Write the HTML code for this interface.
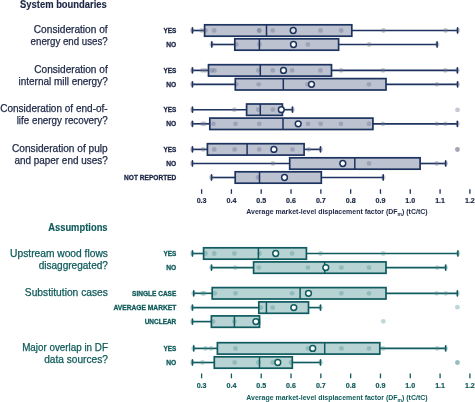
<!DOCTYPE html><html><head><meta charset="utf-8"><style>html,body{margin:0;padding:0;background:#fff;width:475px;height:402px;overflow:hidden}svg{display:block;will-change:transform}text{font-family:"Liberation Sans",sans-serif}</style></head><body>
<svg width="475" height="402" viewBox="0 0 475 402">
<text x="106.8" y="7.6" font-size="10" fill="#1c2645" text-anchor="end" stroke="#1c2645" stroke-width="0.15" font-weight="bold" textLength="86.7" lengthAdjust="spacingAndGlyphs">System boundaries</text>
<text x="107.6" y="230.6" font-size="10" fill="#0f5a5a" text-anchor="end" stroke="#0f5a5a" stroke-width="0.15" font-weight="bold" textLength="59.4" lengthAdjust="spacingAndGlyphs">Assumptions</text>
<text x="107.7" y="33" font-size="10.2" fill="#1c2645" text-anchor="end" stroke="#1c2645" stroke-width="0.25" textLength="73.9" lengthAdjust="spacingAndGlyphs">Consideration of</text>
<text x="107.7" y="45" font-size="10.2" fill="#1c2645" text-anchor="end" stroke="#1c2645" stroke-width="0.25" textLength="77.1" lengthAdjust="spacingAndGlyphs">energy end uses?</text>
<text x="107.7" y="73" font-size="10.2" fill="#1c2645" text-anchor="end" stroke="#1c2645" stroke-width="0.25" textLength="73.4" lengthAdjust="spacingAndGlyphs">Consideration of</text>
<text x="107.7" y="85" font-size="10.2" fill="#1c2645" text-anchor="end" stroke="#1c2645" stroke-width="0.25" textLength="89.2" lengthAdjust="spacingAndGlyphs">internal mill energy?</text>
<text x="107.7" y="112" font-size="10.2" fill="#1c2645" text-anchor="end" stroke="#1c2645" stroke-width="0.25" textLength="107.5" lengthAdjust="spacingAndGlyphs">Consideration of end-of-</text>
<text x="107.7" y="124" font-size="10.2" fill="#1c2645" text-anchor="end" stroke="#1c2645" stroke-width="0.25" textLength="91.0" lengthAdjust="spacingAndGlyphs">life energy recovery?</text>
<text x="107.7" y="152" font-size="10.2" fill="#1c2645" text-anchor="end" stroke="#1c2645" stroke-width="0.25" textLength="95.7" lengthAdjust="spacingAndGlyphs">Consideration of pulp</text>
<text x="107.7" y="164" font-size="10.2" fill="#1c2645" text-anchor="end" stroke="#1c2645" stroke-width="0.25" textLength="93.3" lengthAdjust="spacingAndGlyphs">and paper end uses?</text>
<text x="107.9" y="257" font-size="10.2" fill="#0f5a5a" text-anchor="end" stroke="#0f5a5a" stroke-width="0.25" textLength="97.8" lengthAdjust="spacingAndGlyphs">Upstream wood flows</text>
<text x="107.9" y="269" font-size="10.2" fill="#0f5a5a" text-anchor="end" stroke="#0f5a5a" stroke-width="0.25" textLength="69.2" lengthAdjust="spacingAndGlyphs">disaggregated?</text>
<text x="107.9" y="296" font-size="10.2" fill="#0f5a5a" text-anchor="end" stroke="#0f5a5a" stroke-width="0.25" textLength="83.1" lengthAdjust="spacingAndGlyphs">Substitution cases</text>
<text x="107.9" y="351" font-size="10.2" fill="#0f5a5a" text-anchor="end" stroke="#0f5a5a" stroke-width="0.25" textLength="85.7" lengthAdjust="spacingAndGlyphs">Major overlap in DF</text>
<text x="107.9" y="363" font-size="10.2" fill="#0f5a5a" text-anchor="end" stroke="#0f5a5a" stroke-width="0.25" textLength="63.7" lengthAdjust="spacingAndGlyphs">data sources?</text>
<text x="176.3" y="33" font-size="7.3" fill="#1c2645" text-anchor="end" stroke="#1c2645" stroke-width="0.3" font-weight="bold" textLength="12.9" lengthAdjust="spacingAndGlyphs">YES</text>
<line x1="192.4" y1="30.5" x2="204.6" y2="30.5" stroke="#1d335f" stroke-width="1.65"/>
<line x1="351.8" y1="30.5" x2="457.6" y2="30.5" stroke="#1d335f" stroke-width="1.65"/>
<rect x="204.6" y="24.8" width="147.2" height="11.4" fill="#bcc2d0"/>
<circle cx="192.4" cy="30.5" r="2.4" fill="rgba(108,114,140,0.38)"/>
<circle cx="201.6" cy="30.5" r="2.4" fill="rgba(108,114,140,0.38)"/>
<circle cx="205.5" cy="30.5" r="2.4" fill="rgba(108,114,140,0.38)"/>
<circle cx="214.2" cy="30.5" r="2.4" fill="rgba(108,114,140,0.38)"/>
<circle cx="259.2" cy="30.5" r="2.4" fill="rgba(108,114,140,0.38)"/>
<circle cx="259.2" cy="30.5" r="2.4" fill="rgba(108,114,140,0.38)"/>
<circle cx="272.7" cy="30.5" r="2.4" fill="rgba(108,114,140,0.38)"/>
<circle cx="320.5" cy="30.5" r="2.4" fill="rgba(108,114,140,0.38)"/>
<circle cx="341.2" cy="30.5" r="2.4" fill="rgba(108,114,140,0.38)"/>
<circle cx="383.4" cy="30.5" r="2.4" fill="rgba(108,114,140,0.38)"/>
<circle cx="445.6" cy="30.5" r="2.4" fill="rgba(108,114,140,0.38)"/>
<circle cx="457.6" cy="30.5" r="2.4" fill="rgba(108,114,140,0.38)"/>
<rect x="204.6" y="24.8" width="147.2" height="11.4" fill="none" stroke="#1d335f" stroke-width="1.7"/>
<line x1="266.5" y1="24.8" x2="266.5" y2="36.2" stroke="#1d335f" stroke-width="1.5"/>
<line x1="192.4" y1="27.9" x2="192.4" y2="33.1" stroke="#1d335f" stroke-width="1.6" stroke-linecap="round"/>
<line x1="457.6" y1="27.9" x2="457.6" y2="33.1" stroke="#1d335f" stroke-width="1.6" stroke-linecap="round"/>
<circle cx="293.2" cy="30.5" r="2.9" fill="#fff" stroke="#1d335f" stroke-width="1.5"/>
<text x="176.3" y="47" font-size="7.3" fill="#1c2645" text-anchor="end" stroke="#1c2645" stroke-width="0.3" font-weight="bold" textLength="10.0" lengthAdjust="spacingAndGlyphs">NO</text>
<line x1="211.8" y1="44.5" x2="234.8" y2="44.5" stroke="#1d335f" stroke-width="1.65"/>
<line x1="338.6" y1="44.5" x2="437.1" y2="44.5" stroke="#1d335f" stroke-width="1.65"/>
<rect x="234.8" y="38.8" width="103.8" height="11.4" fill="#bcc2d0"/>
<circle cx="211.8" cy="44.5" r="2.4" fill="rgba(108,114,140,0.38)"/>
<circle cx="236.3" cy="44.5" r="2.4" fill="rgba(108,114,140,0.38)"/>
<circle cx="259.4" cy="44.5" r="2.4" fill="rgba(108,114,140,0.38)"/>
<circle cx="307.9" cy="44.5" r="2.4" fill="rgba(108,114,140,0.38)"/>
<circle cx="369.2" cy="44.5" r="2.4" fill="rgba(108,114,140,0.38)"/>
<circle cx="437.1" cy="44.5" r="2.4" fill="rgba(108,114,140,0.38)"/>
<rect x="234.8" y="38.8" width="103.8" height="11.4" fill="none" stroke="#1d335f" stroke-width="1.7"/>
<line x1="259.4" y1="38.8" x2="259.4" y2="50.2" stroke="#1d335f" stroke-width="1.5"/>
<line x1="211.8" y1="41.9" x2="211.8" y2="47.1" stroke="#1d335f" stroke-width="1.6" stroke-linecap="round"/>
<line x1="437.1" y1="41.9" x2="437.1" y2="47.1" stroke="#1d335f" stroke-width="1.6" stroke-linecap="round"/>
<circle cx="293.5" cy="44.5" r="2.9" fill="#fff" stroke="#1d335f" stroke-width="1.5"/>
<text x="176.3" y="73" font-size="7.3" fill="#1c2645" text-anchor="end" stroke="#1c2645" stroke-width="0.3" font-weight="bold" textLength="12.9" lengthAdjust="spacingAndGlyphs">YES</text>
<line x1="192.4" y1="70.4" x2="208.5" y2="70.4" stroke="#1d335f" stroke-width="1.65"/>
<line x1="331.5" y1="70.4" x2="457.4" y2="70.4" stroke="#1d335f" stroke-width="1.65"/>
<rect x="208.5" y="64.7" width="123.0" height="11.4" fill="#bcc2d0"/>
<circle cx="192.4" cy="70.4" r="2.4" fill="rgba(108,114,140,0.38)"/>
<circle cx="202.4" cy="70.4" r="2.4" fill="rgba(108,114,140,0.38)"/>
<circle cx="205.5" cy="70.4" r="2.4" fill="rgba(108,114,140,0.38)"/>
<circle cx="211.8" cy="70.4" r="2.4" fill="rgba(108,114,140,0.38)"/>
<circle cx="214.5" cy="70.4" r="2.4" fill="rgba(108,114,140,0.38)"/>
<circle cx="258.4" cy="70.4" r="2.4" fill="rgba(108,114,140,0.38)"/>
<circle cx="272.7" cy="70.4" r="2.4" fill="rgba(108,114,140,0.38)"/>
<circle cx="292.2" cy="70.4" r="2.4" fill="rgba(108,114,140,0.38)"/>
<circle cx="320.4" cy="70.4" r="2.4" fill="rgba(108,114,140,0.38)"/>
<circle cx="341.1" cy="70.4" r="2.4" fill="rgba(108,114,140,0.38)"/>
<circle cx="383" cy="70.4" r="2.4" fill="rgba(108,114,140,0.38)"/>
<circle cx="445.3" cy="70.4" r="2.4" fill="rgba(108,114,140,0.38)"/>
<circle cx="457.4" cy="70.4" r="2.4" fill="rgba(108,114,140,0.38)"/>
<rect x="208.5" y="64.7" width="123.0" height="11.4" fill="none" stroke="#1d335f" stroke-width="1.7"/>
<line x1="260.3" y1="64.7" x2="260.3" y2="76.10000000000001" stroke="#1d335f" stroke-width="1.5"/>
<line x1="192.4" y1="67.80000000000001" x2="192.4" y2="73.0" stroke="#1d335f" stroke-width="1.6" stroke-linecap="round"/>
<line x1="457.4" y1="67.80000000000001" x2="457.4" y2="73.0" stroke="#1d335f" stroke-width="1.6" stroke-linecap="round"/>
<circle cx="283.5" cy="70.4" r="2.9" fill="#fff" stroke="#1d335f" stroke-width="1.5"/>
<text x="176.3" y="87" font-size="7.3" fill="#1c2645" text-anchor="end" stroke="#1c2645" stroke-width="0.3" font-weight="bold" textLength="10.0" lengthAdjust="spacingAndGlyphs">NO</text>
<line x1="192.4" y1="84.3" x2="235.3" y2="84.3" stroke="#1d335f" stroke-width="1.65"/>
<line x1="386.0" y1="84.3" x2="457.6" y2="84.3" stroke="#1d335f" stroke-width="1.65"/>
<rect x="235.3" y="78.6" width="150.7" height="11.4" fill="#bcc2d0"/>
<circle cx="192.4" cy="84.3" r="2.4" fill="rgba(108,114,140,0.38)"/>
<circle cx="236.3" cy="84.3" r="2.4" fill="rgba(108,114,140,0.38)"/>
<circle cx="258.7" cy="84.3" r="2.4" fill="rgba(108,114,140,0.38)"/>
<circle cx="307.5" cy="84.3" r="2.4" fill="rgba(108,114,140,0.38)"/>
<circle cx="369" cy="84.3" r="2.4" fill="rgba(108,114,140,0.38)"/>
<circle cx="436.8" cy="84.3" r="2.4" fill="rgba(108,114,140,0.38)"/>
<circle cx="457.6" cy="84.3" r="2.4" fill="rgba(108,114,140,0.38)"/>
<rect x="235.3" y="78.6" width="150.7" height="11.4" fill="none" stroke="#1d335f" stroke-width="1.7"/>
<line x1="283.3" y1="78.6" x2="283.3" y2="90.0" stroke="#1d335f" stroke-width="1.5"/>
<line x1="192.4" y1="81.7" x2="192.4" y2="86.89999999999999" stroke="#1d335f" stroke-width="1.6" stroke-linecap="round"/>
<line x1="457.6" y1="81.7" x2="457.6" y2="86.89999999999999" stroke="#1d335f" stroke-width="1.6" stroke-linecap="round"/>
<circle cx="311.5" cy="84.3" r="2.9" fill="#fff" stroke="#1d335f" stroke-width="1.5"/>
<text x="176.3" y="112" font-size="7.3" fill="#1c2645" text-anchor="end" stroke="#1c2645" stroke-width="0.3" font-weight="bold" textLength="12.9" lengthAdjust="spacingAndGlyphs">YES</text>
<line x1="192.4" y1="109.7" x2="246.6" y2="109.7" stroke="#1d335f" stroke-width="1.65"/>
<line x1="282.4" y1="109.7" x2="292.5" y2="109.7" stroke="#1d335f" stroke-width="1.65"/>
<rect x="246.6" y="104.0" width="35.8" height="11.4" fill="#bcc2d0"/>
<circle cx="192.4" cy="109.7" r="2.4" fill="rgba(108,114,140,0.38)"/>
<circle cx="234.3" cy="109.7" r="2.4" fill="rgba(108,114,140,0.38)"/>
<circle cx="258.3" cy="109.7" r="2.4" fill="rgba(108,114,140,0.38)"/>
<circle cx="272.9" cy="109.7" r="2.4" fill="rgba(108,114,140,0.38)"/>
<circle cx="292.5" cy="109.7" r="2.4" fill="rgba(108,114,140,0.38)"/>
<rect x="246.6" y="104.0" width="35.8" height="11.4" fill="none" stroke="#1d335f" stroke-width="1.7"/>
<line x1="260.3" y1="104.0" x2="260.3" y2="115.4" stroke="#1d335f" stroke-width="1.5"/>
<line x1="192.4" y1="107.10000000000001" x2="192.4" y2="112.3" stroke="#1d335f" stroke-width="1.6" stroke-linecap="round"/>
<line x1="292.5" y1="107.10000000000001" x2="292.5" y2="112.3" stroke="#1d335f" stroke-width="1.6" stroke-linecap="round"/>
<circle cx="281.3" cy="109.7" r="2.9" fill="#fff" stroke="#1d335f" stroke-width="1.5"/>
<text x="176.3" y="126" font-size="7.3" fill="#1c2645" text-anchor="end" stroke="#1c2645" stroke-width="0.3" font-weight="bold" textLength="10.0" lengthAdjust="spacingAndGlyphs">NO</text>
<line x1="192.4" y1="123.8" x2="209.8" y2="123.8" stroke="#1d335f" stroke-width="1.65"/>
<line x1="372.9" y1="123.8" x2="457.4" y2="123.8" stroke="#1d335f" stroke-width="1.65"/>
<rect x="209.8" y="118.1" width="163.1" height="11.4" fill="#bcc2d0"/>
<circle cx="192.4" cy="123.8" r="2.4" fill="rgba(108,114,140,0.38)"/>
<circle cx="202.4" cy="123.8" r="2.4" fill="rgba(108,114,140,0.38)"/>
<circle cx="204.7" cy="123.8" r="2.4" fill="rgba(108,114,140,0.38)"/>
<circle cx="213.4" cy="123.8" r="2.4" fill="rgba(108,114,140,0.38)"/>
<circle cx="235.5" cy="123.8" r="2.4" fill="rgba(108,114,140,0.38)"/>
<circle cx="259.2" cy="123.8" r="2.4" fill="rgba(108,114,140,0.38)"/>
<circle cx="308" cy="123.8" r="2.4" fill="rgba(108,114,140,0.38)"/>
<circle cx="320.7" cy="123.8" r="2.4" fill="rgba(108,114,140,0.38)"/>
<circle cx="341" cy="123.8" r="2.4" fill="rgba(108,114,140,0.38)"/>
<circle cx="369" cy="123.8" r="2.4" fill="rgba(108,114,140,0.38)"/>
<circle cx="382.9" cy="123.8" r="2.4" fill="rgba(108,114,140,0.38)"/>
<circle cx="436.8" cy="123.8" r="2.4" fill="rgba(108,114,140,0.38)"/>
<circle cx="445.3" cy="123.8" r="2.4" fill="rgba(108,114,140,0.38)"/>
<circle cx="457.4" cy="123.8" r="2.4" fill="rgba(108,114,140,0.38)"/>
<rect x="209.8" y="118.1" width="163.1" height="11.4" fill="none" stroke="#1d335f" stroke-width="1.7"/>
<line x1="283.0" y1="118.1" x2="283.0" y2="129.5" stroke="#1d335f" stroke-width="1.5"/>
<line x1="192.4" y1="121.2" x2="192.4" y2="126.39999999999999" stroke="#1d335f" stroke-width="1.6" stroke-linecap="round"/>
<line x1="457.4" y1="121.2" x2="457.4" y2="126.39999999999999" stroke="#1d335f" stroke-width="1.6" stroke-linecap="round"/>
<circle cx="298.2" cy="123.8" r="2.9" fill="#fff" stroke="#1d335f" stroke-width="1.5"/>
<text x="176.3" y="152" font-size="7.3" fill="#1c2645" text-anchor="end" stroke="#1c2645" stroke-width="0.3" font-weight="bold" textLength="12.9" lengthAdjust="spacingAndGlyphs">YES</text>
<line x1="192.4" y1="149.4" x2="207.4" y2="149.4" stroke="#1d335f" stroke-width="1.65"/>
<line x1="304.1" y1="149.4" x2="320.5" y2="149.4" stroke="#1d335f" stroke-width="1.65"/>
<rect x="207.4" y="143.70000000000002" width="96.7" height="11.4" fill="#bcc2d0"/>
<circle cx="192.4" cy="149.4" r="2.4" fill="rgba(108,114,140,0.38)"/>
<circle cx="203.2" cy="149.4" r="2.4" fill="rgba(108,114,140,0.38)"/>
<circle cx="214.2" cy="149.4" r="2.4" fill="rgba(108,114,140,0.38)"/>
<circle cx="234.7" cy="149.4" r="2.4" fill="rgba(108,114,140,0.38)"/>
<circle cx="259.2" cy="149.4" r="2.4" fill="rgba(108,114,140,0.38)"/>
<circle cx="292.5" cy="149.4" r="2.4" fill="rgba(108,114,140,0.38)"/>
<circle cx="308.7" cy="149.4" r="2.4" fill="rgba(108,114,140,0.38)"/>
<circle cx="320.7" cy="149.4" r="2.4" fill="rgba(108,114,140,0.38)"/>
<rect x="207.4" y="143.70000000000002" width="96.7" height="11.4" fill="none" stroke="#1d335f" stroke-width="1.7"/>
<line x1="247.1" y1="143.70000000000002" x2="247.1" y2="155.1" stroke="#1d335f" stroke-width="1.5"/>
<line x1="192.4" y1="146.8" x2="192.4" y2="152.0" stroke="#1d335f" stroke-width="1.6" stroke-linecap="round"/>
<line x1="320.5" y1="146.8" x2="320.5" y2="152.0" stroke="#1d335f" stroke-width="1.6" stroke-linecap="round"/>
<circle cx="273.9" cy="149.4" r="2.9" fill="#fff" stroke="#1d335f" stroke-width="1.5"/>
<text x="176.3" y="166" font-size="7.3" fill="#1c2645" text-anchor="end" stroke="#1c2645" stroke-width="0.3" font-weight="bold" textLength="10.0" lengthAdjust="spacingAndGlyphs">NO</text>
<line x1="192.4" y1="163.5" x2="289.7" y2="163.5" stroke="#1d335f" stroke-width="1.65"/>
<line x1="420.1" y1="163.5" x2="445.7" y2="163.5" stroke="#1d335f" stroke-width="1.65"/>
<rect x="289.7" y="157.8" width="130.4" height="11.4" fill="#bcc2d0"/>
<circle cx="192.4" cy="163.5" r="2.4" fill="rgba(108,114,140,0.38)"/>
<circle cx="272.9" cy="163.5" r="2.4" fill="rgba(108,114,140,0.38)"/>
<circle cx="369" cy="163.5" r="2.4" fill="rgba(108,114,140,0.38)"/>
<circle cx="436.6" cy="163.5" r="2.4" fill="rgba(108,114,140,0.38)"/>
<circle cx="445.7" cy="163.5" r="2.4" fill="rgba(108,114,140,0.38)"/>
<rect x="289.7" y="157.8" width="130.4" height="11.4" fill="none" stroke="#1d335f" stroke-width="1.7"/>
<line x1="354.8" y1="157.8" x2="354.8" y2="169.2" stroke="#1d335f" stroke-width="1.5"/>
<line x1="192.4" y1="160.9" x2="192.4" y2="166.1" stroke="#1d335f" stroke-width="1.6" stroke-linecap="round"/>
<line x1="445.7" y1="160.9" x2="445.7" y2="166.1" stroke="#1d335f" stroke-width="1.6" stroke-linecap="round"/>
<circle cx="342.8" cy="163.5" r="2.9" fill="#fff" stroke="#1d335f" stroke-width="1.5"/>
<text x="176.3" y="180" font-size="7.3" fill="#1c2645" text-anchor="end" stroke="#1c2645" stroke-width="0.3" font-weight="bold" textLength="52.2" lengthAdjust="spacingAndGlyphs">NOT REPORTED</text>
<line x1="211.5" y1="177.5" x2="235.2" y2="177.5" stroke="#1d335f" stroke-width="1.65"/>
<line x1="321.3" y1="177.5" x2="383.2" y2="177.5" stroke="#1d335f" stroke-width="1.65"/>
<rect x="235.2" y="171.8" width="86.1" height="11.4" fill="#bcc2d0"/>
<circle cx="211.5" cy="177.5" r="2.4" fill="rgba(108,114,140,0.38)"/>
<circle cx="258" cy="177.5" r="2.4" fill="rgba(108,114,140,0.38)"/>
<circle cx="383.2" cy="177.5" r="2.4" fill="rgba(108,114,140,0.38)"/>
<rect x="235.2" y="171.8" width="86.1" height="11.4" fill="none" stroke="#1d335f" stroke-width="1.7"/>
<line x1="259.5" y1="171.8" x2="259.5" y2="183.2" stroke="#1d335f" stroke-width="1.5"/>
<line x1="211.5" y1="174.9" x2="211.5" y2="180.1" stroke="#1d335f" stroke-width="1.6" stroke-linecap="round"/>
<line x1="383.2" y1="174.9" x2="383.2" y2="180.1" stroke="#1d335f" stroke-width="1.6" stroke-linecap="round"/>
<circle cx="284.5" cy="177.5" r="2.9" fill="#fff" stroke="#1d335f" stroke-width="1.5"/>
<text x="176.3" y="256" font-size="7.3" fill="#0f5a5a" text-anchor="end" stroke="#0f5a5a" stroke-width="0.3" font-weight="bold" textLength="12.9" lengthAdjust="spacingAndGlyphs">YES</text>
<line x1="192.4" y1="253.5" x2="203.6" y2="253.5" stroke="#0f5b5f" stroke-width="1.65"/>
<line x1="306.4" y1="253.5" x2="457.9" y2="253.5" stroke="#0f5b5f" stroke-width="1.65"/>
<rect x="203.6" y="247.8" width="102.8" height="11.4" fill="#b8d3d4"/>
<circle cx="192.4" cy="253.5" r="2.4" fill="rgba(66,138,140,0.34)"/>
<circle cx="205.5" cy="253.5" r="2.4" fill="rgba(66,138,140,0.34)"/>
<circle cx="214.2" cy="253.5" r="2.4" fill="rgba(66,138,140,0.34)"/>
<circle cx="234.4" cy="253.5" r="2.4" fill="rgba(66,138,140,0.34)"/>
<circle cx="259.5" cy="253.5" r="2.4" fill="rgba(66,138,140,0.34)"/>
<circle cx="292.1" cy="253.5" r="2.4" fill="rgba(66,138,140,0.34)"/>
<circle cx="320.5" cy="253.5" r="2.4" fill="rgba(66,138,140,0.34)"/>
<circle cx="383.2" cy="253.5" r="2.4" fill="rgba(66,138,140,0.34)"/>
<circle cx="457.9" cy="253.5" r="2.4" fill="rgba(66,138,140,0.34)"/>
<rect x="203.6" y="247.8" width="102.8" height="11.4" fill="none" stroke="#0f5b5f" stroke-width="1.7"/>
<line x1="258.4" y1="247.8" x2="258.4" y2="259.2" stroke="#0f5b5f" stroke-width="1.5"/>
<line x1="192.4" y1="250.9" x2="192.4" y2="256.1" stroke="#0f5b5f" stroke-width="1.6" stroke-linecap="round"/>
<line x1="457.9" y1="250.9" x2="457.9" y2="256.1" stroke="#0f5b5f" stroke-width="1.6" stroke-linecap="round"/>
<circle cx="275.7" cy="253.5" r="2.9" fill="#fff" stroke="#0f5b5f" stroke-width="1.5"/>
<text x="176.3" y="270" font-size="7.3" fill="#0f5a5a" text-anchor="end" stroke="#0f5a5a" stroke-width="0.3" font-weight="bold" textLength="10.0" lengthAdjust="spacingAndGlyphs">NO</text>
<line x1="211.5" y1="267.6" x2="253.6" y2="267.6" stroke="#0f5b5f" stroke-width="1.65"/>
<line x1="386.0" y1="267.6" x2="445.7" y2="267.6" stroke="#0f5b5f" stroke-width="1.65"/>
<rect x="253.6" y="261.90000000000003" width="132.4" height="11.4" fill="#b8d3d4"/>
<circle cx="211.5" cy="267.6" r="2.4" fill="rgba(66,138,140,0.34)"/>
<circle cx="235.2" cy="267.6" r="2.4" fill="rgba(66,138,140,0.34)"/>
<circle cx="258.8" cy="267.6" r="2.4" fill="rgba(66,138,140,0.34)"/>
<circle cx="307.9" cy="267.6" r="2.4" fill="rgba(66,138,140,0.34)"/>
<circle cx="341.4" cy="267.6" r="2.4" fill="rgba(66,138,140,0.34)"/>
<circle cx="369" cy="267.6" r="2.4" fill="rgba(66,138,140,0.34)"/>
<circle cx="437.2" cy="267.6" r="2.4" fill="rgba(66,138,140,0.34)"/>
<circle cx="445.7" cy="267.6" r="2.4" fill="rgba(66,138,140,0.34)"/>
<rect x="253.6" y="261.90000000000003" width="132.4" height="11.4" fill="none" stroke="#0f5b5f" stroke-width="1.7"/>
<line x1="324.7" y1="261.90000000000003" x2="324.7" y2="273.3" stroke="#0f5b5f" stroke-width="1.5"/>
<line x1="211.5" y1="265.0" x2="211.5" y2="270.20000000000005" stroke="#0f5b5f" stroke-width="1.6" stroke-linecap="round"/>
<line x1="445.7" y1="265.0" x2="445.7" y2="270.20000000000005" stroke="#0f5b5f" stroke-width="1.6" stroke-linecap="round"/>
<circle cx="325.8" cy="267.6" r="2.9" fill="#fff" stroke="#0f5b5f" stroke-width="1.5"/>
<text x="176.3" y="296" font-size="7.3" fill="#0f5a5a" text-anchor="end" stroke="#0f5a5a" stroke-width="0.3" font-weight="bold" textLength="44.2" lengthAdjust="spacingAndGlyphs">SINGLE CASE</text>
<line x1="193.7" y1="293.3" x2="212.2" y2="293.3" stroke="#0f5b5f" stroke-width="1.65"/>
<line x1="386.0" y1="293.3" x2="457.4" y2="293.3" stroke="#0f5b5f" stroke-width="1.65"/>
<rect x="212.2" y="287.6" width="173.8" height="11.4" fill="#b8d3d4"/>
<circle cx="193.7" cy="293.3" r="2.4" fill="rgba(66,138,140,0.34)"/>
<circle cx="202.4" cy="293.3" r="2.4" fill="rgba(66,138,140,0.34)"/>
<circle cx="204.2" cy="293.3" r="2.4" fill="rgba(66,138,140,0.34)"/>
<circle cx="214.7" cy="293.3" r="2.4" fill="rgba(66,138,140,0.34)"/>
<circle cx="235.5" cy="293.3" r="2.4" fill="rgba(66,138,140,0.34)"/>
<circle cx="292.1" cy="293.3" r="2.4" fill="rgba(66,138,140,0.34)"/>
<circle cx="341.4" cy="293.3" r="2.4" fill="rgba(66,138,140,0.34)"/>
<circle cx="369" cy="293.3" r="2.4" fill="rgba(66,138,140,0.34)"/>
<circle cx="436.6" cy="293.3" r="2.4" fill="rgba(66,138,140,0.34)"/>
<circle cx="445.7" cy="293.3" r="2.4" fill="rgba(66,138,140,0.34)"/>
<circle cx="457.4" cy="293.3" r="2.4" fill="rgba(66,138,140,0.34)"/>
<rect x="212.2" y="287.6" width="173.8" height="11.4" fill="none" stroke="#0f5b5f" stroke-width="1.7"/>
<line x1="300.1" y1="287.6" x2="300.1" y2="299.0" stroke="#0f5b5f" stroke-width="1.5"/>
<line x1="193.7" y1="290.7" x2="193.7" y2="295.90000000000003" stroke="#0f5b5f" stroke-width="1.6" stroke-linecap="round"/>
<line x1="457.4" y1="290.7" x2="457.4" y2="295.90000000000003" stroke="#0f5b5f" stroke-width="1.6" stroke-linecap="round"/>
<circle cx="308.5" cy="293.3" r="2.9" fill="#fff" stroke="#0f5b5f" stroke-width="1.5"/>
<text x="176.3" y="310" font-size="7.3" fill="#0f5a5a" text-anchor="end" stroke="#0f5a5a" stroke-width="0.3" font-weight="bold" textLength="62.8" lengthAdjust="spacingAndGlyphs">AVERAGE MARKET</text>
<line x1="192.4" y1="307.6" x2="258.8" y2="307.6" stroke="#0f5b5f" stroke-width="1.65"/>
<line x1="308.5" y1="307.6" x2="320.5" y2="307.6" stroke="#0f5b5f" stroke-width="1.65"/>
<rect x="258.8" y="301.90000000000003" width="49.7" height="11.4" fill="#b8d3d4"/>
<circle cx="192.4" cy="307.6" r="2.4" fill="rgba(66,138,140,0.34)"/>
<circle cx="261" cy="307.6" r="2.4" fill="rgba(66,138,140,0.34)"/>
<circle cx="272.7" cy="307.6" r="2.4" fill="rgba(66,138,140,0.34)"/>
<circle cx="320.5" cy="307.6" r="2.4" fill="rgba(66,138,140,0.34)"/>
<rect x="258.8" y="301.90000000000003" width="49.7" height="11.4" fill="none" stroke="#0f5b5f" stroke-width="1.7"/>
<line x1="266.4" y1="301.90000000000003" x2="266.4" y2="313.3" stroke="#0f5b5f" stroke-width="1.5"/>
<line x1="192.4" y1="305.0" x2="192.4" y2="310.20000000000005" stroke="#0f5b5f" stroke-width="1.6" stroke-linecap="round"/>
<line x1="320.5" y1="305.0" x2="320.5" y2="310.20000000000005" stroke="#0f5b5f" stroke-width="1.6" stroke-linecap="round"/>
<circle cx="293.8" cy="307.6" r="2.9" fill="#fff" stroke="#0f5b5f" stroke-width="1.5"/>
<text x="176.3" y="324" font-size="7.3" fill="#0f5a5a" text-anchor="end" stroke="#0f5a5a" stroke-width="0.3" font-weight="bold" textLength="31.6" lengthAdjust="spacingAndGlyphs">UNCLEAR</text>
<line x1="192.4" y1="321.6" x2="211.4" y2="321.6" stroke="#0f5b5f" stroke-width="1.65"/>
<line x1="259.5" y1="321.6" x2="259.5" y2="321.6" stroke="#0f5b5f" stroke-width="1.65"/>
<rect x="211.4" y="315.90000000000003" width="48.1" height="11.4" fill="#b8d3d4"/>
<circle cx="192.4" cy="321.6" r="2.4" fill="rgba(66,138,140,0.34)"/>
<circle cx="213" cy="321.6" r="2.4" fill="rgba(66,138,140,0.34)"/>
<circle cx="234.4" cy="321.6" r="2.4" fill="rgba(66,138,140,0.34)"/>
<circle cx="255.9" cy="321.6" r="2.4" fill="rgba(66,138,140,0.34)"/>
<rect x="211.4" y="315.90000000000003" width="48.1" height="11.4" fill="none" stroke="#0f5b5f" stroke-width="1.7"/>
<line x1="234.4" y1="315.90000000000003" x2="234.4" y2="327.3" stroke="#0f5b5f" stroke-width="1.5"/>
<line x1="192.4" y1="319.0" x2="192.4" y2="324.20000000000005" stroke="#0f5b5f" stroke-width="1.6" stroke-linecap="round"/>
<line x1="259.5" y1="319.0" x2="259.5" y2="324.20000000000005" stroke="#0f5b5f" stroke-width="1.6" stroke-linecap="round"/>
<circle cx="255.9" cy="321.6" r="2.9" fill="#fff" stroke="#0f5b5f" stroke-width="1.5"/>
<text x="176.3" y="351" font-size="7.3" fill="#0f5a5a" text-anchor="end" stroke="#0f5a5a" stroke-width="0.3" font-weight="bold" textLength="12.9" lengthAdjust="spacingAndGlyphs">YES</text>
<line x1="193.7" y1="348.4" x2="217.4" y2="348.4" stroke="#0f5b5f" stroke-width="1.65"/>
<line x1="379.8" y1="348.4" x2="445.7" y2="348.4" stroke="#0f5b5f" stroke-width="1.65"/>
<rect x="217.4" y="342.7" width="162.4" height="11.4" fill="#b8d3d4"/>
<circle cx="193.7" cy="348.4" r="2.4" fill="rgba(66,138,140,0.34)"/>
<circle cx="205.5" cy="348.4" r="2.4" fill="rgba(66,138,140,0.34)"/>
<circle cx="211" cy="348.4" r="2.4" fill="rgba(66,138,140,0.34)"/>
<circle cx="235.5" cy="348.4" r="2.4" fill="rgba(66,138,140,0.34)"/>
<circle cx="307.9" cy="348.4" r="2.4" fill="rgba(66,138,140,0.34)"/>
<circle cx="341.4" cy="348.4" r="2.4" fill="rgba(66,138,140,0.34)"/>
<circle cx="369" cy="348.4" r="2.4" fill="rgba(66,138,140,0.34)"/>
<circle cx="383.2" cy="348.4" r="2.4" fill="rgba(66,138,140,0.34)"/>
<circle cx="437.2" cy="348.4" r="2.4" fill="rgba(66,138,140,0.34)"/>
<circle cx="445.7" cy="348.4" r="2.4" fill="rgba(66,138,140,0.34)"/>
<rect x="217.4" y="342.7" width="162.4" height="11.4" fill="none" stroke="#0f5b5f" stroke-width="1.7"/>
<line x1="324.7" y1="342.7" x2="324.7" y2="354.09999999999997" stroke="#0f5b5f" stroke-width="1.5"/>
<line x1="193.7" y1="345.79999999999995" x2="193.7" y2="351.0" stroke="#0f5b5f" stroke-width="1.6" stroke-linecap="round"/>
<line x1="445.7" y1="345.79999999999995" x2="445.7" y2="351.0" stroke="#0f5b5f" stroke-width="1.6" stroke-linecap="round"/>
<circle cx="312.7" cy="348.4" r="2.9" fill="#fff" stroke="#0f5b5f" stroke-width="1.5"/>
<text x="176.3" y="365" font-size="7.3" fill="#0f5a5a" text-anchor="end" stroke="#0f5a5a" stroke-width="0.3" font-weight="bold" textLength="10.0" lengthAdjust="spacingAndGlyphs">NO</text>
<line x1="192.4" y1="362.5" x2="214.3" y2="362.5" stroke="#0f5b5f" stroke-width="1.65"/>
<line x1="292.3" y1="362.5" x2="320.5" y2="362.5" stroke="#0f5b5f" stroke-width="1.65"/>
<rect x="214.3" y="356.8" width="78.0" height="11.4" fill="#b8d3d4"/>
<circle cx="192.4" cy="362.5" r="2.4" fill="rgba(66,138,140,0.34)"/>
<circle cx="202.4" cy="362.5" r="2.4" fill="rgba(66,138,140,0.34)"/>
<circle cx="234.7" cy="362.5" r="2.4" fill="rgba(66,138,140,0.34)"/>
<circle cx="258.4" cy="362.5" r="2.4" fill="rgba(66,138,140,0.34)"/>
<circle cx="272.7" cy="362.5" r="2.4" fill="rgba(66,138,140,0.34)"/>
<circle cx="291" cy="362.5" r="2.4" fill="rgba(66,138,140,0.34)"/>
<circle cx="320.5" cy="362.5" r="2.4" fill="rgba(66,138,140,0.34)"/>
<rect x="214.3" y="356.8" width="78.0" height="11.4" fill="none" stroke="#0f5b5f" stroke-width="1.7"/>
<line x1="259.5" y1="356.8" x2="259.5" y2="368.2" stroke="#0f5b5f" stroke-width="1.5"/>
<line x1="192.4" y1="359.9" x2="192.4" y2="365.1" stroke="#0f5b5f" stroke-width="1.6" stroke-linecap="round"/>
<line x1="320.5" y1="359.9" x2="320.5" y2="365.1" stroke="#0f5b5f" stroke-width="1.6" stroke-linecap="round"/>
<circle cx="277.8" cy="362.5" r="2.9" fill="#fff" stroke="#0f5b5f" stroke-width="1.5"/>
<circle cx="293.2" cy="30.5" r="2.3" fill="rgba(108,114,140,0.22)"/>
<circle cx="457.5" cy="109.9" r="2.4" fill="rgba(108,114,140,0.38)"/>
<circle cx="457.4" cy="149.5" r="2.4" fill="rgba(108,114,140,0.38)"/>
<circle cx="457.5" cy="149.5" r="2.4" fill="rgba(108,114,140,0.38)"/>
<circle cx="457.4" cy="307.2" r="2.4" fill="rgba(66,138,140,0.34)"/>
<circle cx="383.3" cy="321.3" r="2.4" fill="rgba(66,138,140,0.34)"/>
<circle cx="457.5" cy="362.5" r="2.4" fill="rgba(66,138,140,0.34)"/>
<circle cx="457.4" cy="362.6" r="2.4" fill="rgba(66,138,140,0.34)"/>
<line x1="201.6" y1="189.2" x2="201.6" y2="193.8" stroke="#1d335f" stroke-width="1.3"/>
<text x="201.6" y="203" font-size="7.8" fill="#1c2645" text-anchor="middle" stroke="#1c2645" stroke-width="0.2" font-weight="bold" textLength="9.9" lengthAdjust="spacingAndGlyphs">0.3</text>
<line x1="231.41" y1="189.2" x2="231.41" y2="193.8" stroke="#1d335f" stroke-width="1.3"/>
<text x="231.41" y="203" font-size="7.8" fill="#1c2645" text-anchor="middle" stroke="#1c2645" stroke-width="0.2" font-weight="bold" textLength="9.9" lengthAdjust="spacingAndGlyphs">0.4</text>
<line x1="261.22" y1="189.2" x2="261.22" y2="193.8" stroke="#1d335f" stroke-width="1.3"/>
<text x="261.22" y="203" font-size="7.8" fill="#1c2645" text-anchor="middle" stroke="#1c2645" stroke-width="0.2" font-weight="bold" textLength="9.9" lengthAdjust="spacingAndGlyphs">0.5</text>
<line x1="291.03" y1="189.2" x2="291.03" y2="193.8" stroke="#1d335f" stroke-width="1.3"/>
<text x="291.03" y="203" font-size="7.8" fill="#1c2645" text-anchor="middle" stroke="#1c2645" stroke-width="0.2" font-weight="bold" textLength="9.9" lengthAdjust="spacingAndGlyphs">0.6</text>
<line x1="320.84" y1="189.2" x2="320.84" y2="193.8" stroke="#1d335f" stroke-width="1.3"/>
<text x="320.84" y="203" font-size="7.8" fill="#1c2645" text-anchor="middle" stroke="#1c2645" stroke-width="0.2" font-weight="bold" textLength="9.9" lengthAdjust="spacingAndGlyphs">0.7</text>
<line x1="350.65" y1="189.2" x2="350.65" y2="193.8" stroke="#1d335f" stroke-width="1.3"/>
<text x="350.65" y="203" font-size="7.8" fill="#1c2645" text-anchor="middle" stroke="#1c2645" stroke-width="0.2" font-weight="bold" textLength="9.9" lengthAdjust="spacingAndGlyphs">0.8</text>
<line x1="380.46" y1="189.2" x2="380.46" y2="193.8" stroke="#1d335f" stroke-width="1.3"/>
<text x="380.46" y="203" font-size="7.8" fill="#1c2645" text-anchor="middle" stroke="#1c2645" stroke-width="0.2" font-weight="bold" textLength="9.9" lengthAdjust="spacingAndGlyphs">0.9</text>
<line x1="410.27" y1="189.2" x2="410.27" y2="193.8" stroke="#1d335f" stroke-width="1.3"/>
<text x="410.27" y="203" font-size="7.8" fill="#1c2645" text-anchor="middle" stroke="#1c2645" stroke-width="0.2" font-weight="bold" textLength="9.9" lengthAdjust="spacingAndGlyphs">1.0</text>
<line x1="440.08" y1="189.2" x2="440.08" y2="193.8" stroke="#1d335f" stroke-width="1.3"/>
<text x="440.08" y="203" font-size="7.8" fill="#1c2645" text-anchor="middle" stroke="#1c2645" stroke-width="0.2" font-weight="bold" textLength="9.9" lengthAdjust="spacingAndGlyphs">1.1</text>
<line x1="469.89" y1="189.2" x2="469.89" y2="193.8" stroke="#1d335f" stroke-width="1.3"/>
<text x="469.89" y="203" font-size="7.8" fill="#1c2645" text-anchor="middle" stroke="#1c2645" stroke-width="0.2" font-weight="bold" textLength="9.9" lengthAdjust="spacingAndGlyphs">1.2</text>
<text x="246.3" y="214.1" font-size="7" font-weight="bold" fill="#1c2645" textLength="181.3" lengthAdjust="spacingAndGlyphs">Average market-level displacement factor (DF<tspan font-size="5" dy="1.5">m</tspan><tspan dy="-1.5">) (tC/tC)</tspan></text>
<line x1="201.6" y1="373.5" x2="201.6" y2="378.3" stroke="#0f5b5f" stroke-width="1.3"/>
<text x="201.6" y="388" font-size="7.8" fill="#0f5a5a" text-anchor="middle" stroke="#0f5a5a" stroke-width="0.2" font-weight="bold" textLength="9.9" lengthAdjust="spacingAndGlyphs">0.3</text>
<line x1="231.41" y1="373.5" x2="231.41" y2="378.3" stroke="#0f5b5f" stroke-width="1.3"/>
<text x="231.41" y="388" font-size="7.8" fill="#0f5a5a" text-anchor="middle" stroke="#0f5a5a" stroke-width="0.2" font-weight="bold" textLength="9.9" lengthAdjust="spacingAndGlyphs">0.4</text>
<line x1="261.22" y1="373.5" x2="261.22" y2="378.3" stroke="#0f5b5f" stroke-width="1.3"/>
<text x="261.22" y="388" font-size="7.8" fill="#0f5a5a" text-anchor="middle" stroke="#0f5a5a" stroke-width="0.2" font-weight="bold" textLength="9.9" lengthAdjust="spacingAndGlyphs">0.5</text>
<line x1="291.03" y1="373.5" x2="291.03" y2="378.3" stroke="#0f5b5f" stroke-width="1.3"/>
<text x="291.03" y="388" font-size="7.8" fill="#0f5a5a" text-anchor="middle" stroke="#0f5a5a" stroke-width="0.2" font-weight="bold" textLength="9.9" lengthAdjust="spacingAndGlyphs">0.6</text>
<line x1="320.84" y1="373.5" x2="320.84" y2="378.3" stroke="#0f5b5f" stroke-width="1.3"/>
<text x="320.84" y="388" font-size="7.8" fill="#0f5a5a" text-anchor="middle" stroke="#0f5a5a" stroke-width="0.2" font-weight="bold" textLength="9.9" lengthAdjust="spacingAndGlyphs">0.7</text>
<line x1="350.65" y1="373.5" x2="350.65" y2="378.3" stroke="#0f5b5f" stroke-width="1.3"/>
<text x="350.65" y="388" font-size="7.8" fill="#0f5a5a" text-anchor="middle" stroke="#0f5a5a" stroke-width="0.2" font-weight="bold" textLength="9.9" lengthAdjust="spacingAndGlyphs">0.8</text>
<line x1="380.46" y1="373.5" x2="380.46" y2="378.3" stroke="#0f5b5f" stroke-width="1.3"/>
<text x="380.46" y="388" font-size="7.8" fill="#0f5a5a" text-anchor="middle" stroke="#0f5a5a" stroke-width="0.2" font-weight="bold" textLength="9.9" lengthAdjust="spacingAndGlyphs">0.9</text>
<line x1="410.27" y1="373.5" x2="410.27" y2="378.3" stroke="#0f5b5f" stroke-width="1.3"/>
<text x="410.27" y="388" font-size="7.8" fill="#0f5a5a" text-anchor="middle" stroke="#0f5a5a" stroke-width="0.2" font-weight="bold" textLength="9.9" lengthAdjust="spacingAndGlyphs">1.0</text>
<line x1="440.08" y1="373.5" x2="440.08" y2="378.3" stroke="#0f5b5f" stroke-width="1.3"/>
<text x="440.08" y="388" font-size="7.8" fill="#0f5a5a" text-anchor="middle" stroke="#0f5a5a" stroke-width="0.2" font-weight="bold" textLength="9.9" lengthAdjust="spacingAndGlyphs">1.1</text>
<line x1="469.89" y1="373.5" x2="469.89" y2="378.3" stroke="#0f5b5f" stroke-width="1.3"/>
<text x="469.89" y="388" font-size="7.8" fill="#0f5a5a" text-anchor="middle" stroke="#0f5a5a" stroke-width="0.2" font-weight="bold" textLength="9.9" lengthAdjust="spacingAndGlyphs">1.2</text>
<text x="246.3" y="400.0" font-size="7" font-weight="bold" fill="#0f5a5a" textLength="181.3" lengthAdjust="spacingAndGlyphs">Average market-level displacement factor (DF<tspan font-size="5" dy="1.5">m</tspan><tspan dy="-1.5">) (tC/tC)</tspan></text>
</svg></body></html>
